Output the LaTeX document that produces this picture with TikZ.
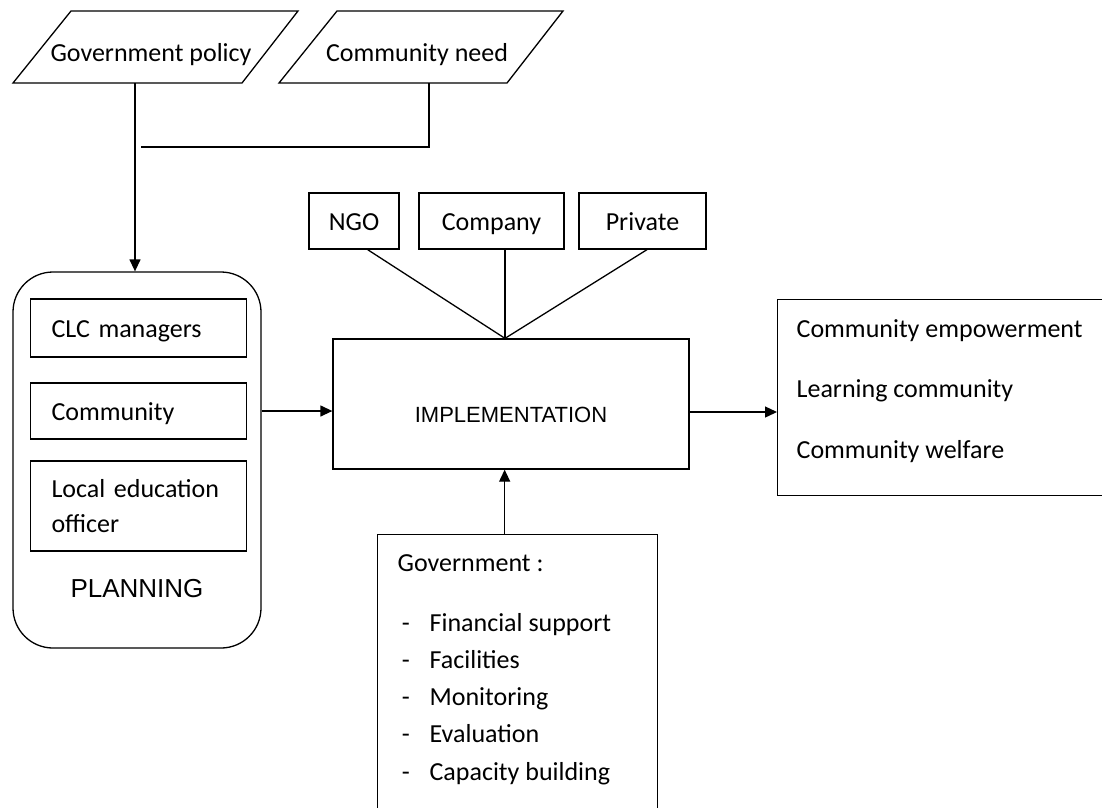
\documentclass[tikz,border=0pt]{standalone}
\usepackage{fontspec}
\setmainfont{Carlito}
\newfontfamily\arialf{Liberation Sans}
\usetikzlibrary{arrows.meta,calc}
\begin{document}
\begin{tikzpicture}[x=1pt,y=-1pt,line width=1.3pt,
  box/.style={draw,rectangle,inner sep=0pt},
  txt/.style={font=\fontsize{26}{31}\selectfont,text height=20pt,text depth=2pt},
  arr/.style={-{Triangle[length=12pt,width=11pt]}}]
\useasboundingbox (0,0) rectangle (1102,807);
\clip (0,0) rectangle (1102,807);
% inputs
\draw (71,11) -- (298,11) -- (242,83) -- (13,83) -- cycle;
\node[txt,inner sep=0pt] (gp) at (151,52) {Government policy};
\draw (337,11) -- (563,11) -- (507,83) -- (279,83) -- cycle;
\node[txt,inner sep=0pt] (cn) at (417,52) {Community need};
\coordinate (gpout) at (135,83);
\coordinate (cnout) at (429,83);
\coordinate (cnend) at (141,147);
% planning
\node[draw,rounded corners=40pt,minimum width=248pt,minimum height=376pt,inner sep=0pt] (plan) at (137,460) {};
\node[box,txt,minimum width=215pt,minimum height=58pt,text width=174pt,inner xsep=21pt,align=left] (clc) at (138.5,328) {CLC managers};
\node[box,txt,minimum width=215pt,minimum height=56pt,text width=174pt,inner xsep=21pt,align=left] (comm) at (138.5,411) {Community};
\node[box,font=\fontsize{26}{35}\selectfont,minimum width=215pt,minimum height=90pt,text width=174pt,inner xsep=21pt,align=left] (leo) at (138.5,506) {Local education\\officer};
\node[font=\arialf\fontsize{26}{30}\selectfont,inner sep=0pt] (plabel) at (137,589) {PLANNING};
% implementation
\node[box,font=\arialf\fontsize{22}{26}\selectfont,minimum width=356pt,minimum height=130pt,text height=36pt,text depth=0pt] (impl) at (511,404) {IMPLEMENTATION};
\node[box,txt,minimum width=90pt,minimum height=56pt] (ngo) at (354,221) {NGO};
\node[box,txt,minimum width=145pt,minimum height=56pt] (comp) at (491.5,221) {Company};
\node[box,txt,minimum width=127pt,minimum height=56pt,text width=107pt,inner xsep=10pt,align=center] (priv) at (642.5,221) {Private\hspace*{14pt}};
\coordinate (meet) at ($(impl.north)+(-6,0)$);
% outcomes
\node[box,minimum width=360pt,minimum height=196pt,anchor=north west] (out) at (777,299) {};
\node[font=\fontsize{26}{60.5}\selectfont,inner sep=0pt,anchor=base west,align=left] (outtxt) at (796,458) {Community empowerment\\Learning community\\Community welfare};
% government
\node[box,minimum width=280pt,minimum height=320pt,anchor=north west] (gov) at (377,534) {};
\node[font=\fontsize{26}{37.25}\selectfont,inner sep=0pt,anchor=base west,align=left] (govtxt) at (397,780) {Government :\\[22.75pt]
\makebox[32pt][l]{\,-}Financial support\\
\makebox[32pt][l]{\,-}Facilities\\
\makebox[32pt][l]{\,-}Monitoring\\
\makebox[32pt][l]{\,-}Evaluation\\
\makebox[32pt][l]{\,-}Capacity building};
% connectors
\draw[arr] (gpout) -- (gpout |- plan.north);
\draw (cnout) -- (cnout |- cnend) -- (cnend);
\draw ($(ngo.south east)+(-32,0)$) -- (meet);
\draw (comp.south -| meet) -- (meet);
\draw ($(priv.south)+(4.5,0)$) -- (meet);
\coordinate (pa) at ($(plan.east)+(0,-49)$);
\draw[arr] (pa) -- (pa -| impl.west);
\coordinate (ia) at ($(impl.east)+(0,8)$);
\draw[arr] (ia) -- (ia -| out.west);
\coordinate (ga) at ($(gov.north)+(-13,0)$);
\draw[arr] (ga) -- (ga |- impl.south);
\end{tikzpicture}
\end{document}
